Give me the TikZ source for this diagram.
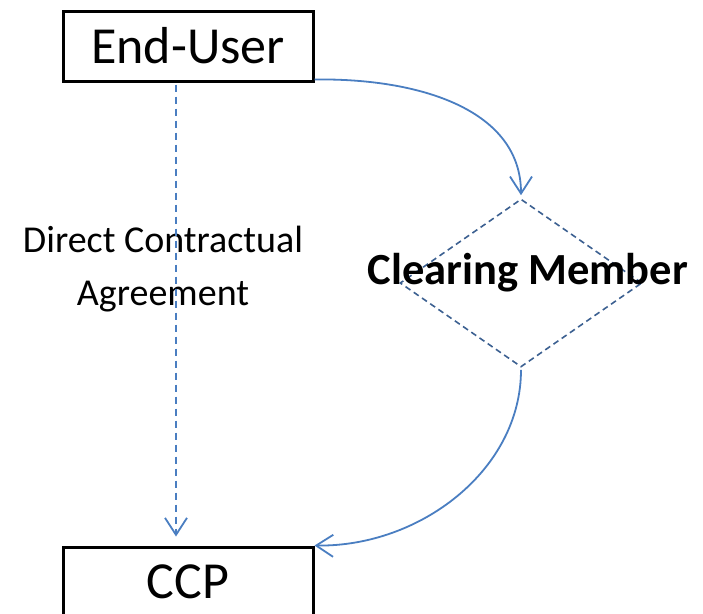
\documentclass[tikz,border=0pt]{standalone}
\usepackage{fontspec}
\setmainfont{Carlito}
\usetikzlibrary{shapes.geometric,arrows.meta,calc}
\definecolor{arrowblue}{RGB}{74,126,193}
\definecolor{dashblue}{RGB}{60,96,145}
\tikzset{
  box/.style={draw=black,line width=3pt,minimum width=250pt,minimum height=70pt,inner sep=0pt,font=\fontsize{52}{58}\selectfont},
  conn/.style={draw=arrowblue,line width=1.8pt,-{Straight Barb[length=17pt,width=22pt,line width=1.8pt]}},
  dconn/.style={conn,dash pattern=on 7pt off 5pt},
  cmshape/.style={draw=dashblue,line width=1.6pt,dash pattern=on 6pt off 4pt,diamond,aspect=1.44,minimum width=242pt,minimum height=168pt,inner sep=0pt},
}
\begin{document}
\begin{tikzpicture}[x=1pt,y=-1pt]
\useasboundingbox (0,0) rectangle (703,613);
\clip (0,0) rectangle (703,613);
\node[box] (eu) at (188,46) {\raisebox{-2pt}{End-User}};
\node[box] (ccp) at (188,582) {\raisebox{-2pt}{CCP}};
\node[cmshape] (cm) at (521,283) {};
\node[font=\bfseries\fontsize{44.5}{50}\selectfont,inner sep=0pt] (cmtext) at (528,273) {Clearing Member};
\node[font=\fontsize{38}{53}\selectfont,align=center,inner sep=0pt] (dca) at (163,269) {Direct Contractual\\Agreement};
\coordinate (v1) at ($(eu.south)+(-12,2)$);
\coordinate (v2) at ($(ccp.north)+(-12,-9)$);
\draw[dconn] (v1) -- (v2);
\coordinate (s1) at ($(eu.south east)+(0,-3)$);
\coordinate (e1) at ($(cm.north)+(0,-3)$);
\draw[conn] (s1) .. controls (420,78) and (521,110) .. (e1);
\coordinate (s2) at ($(cm.south)+(0,2)$);
\draw[conn] (s2) .. controls (521,470) and (420,547) .. (ccp.north east);
\end{tikzpicture}
\end{document}
